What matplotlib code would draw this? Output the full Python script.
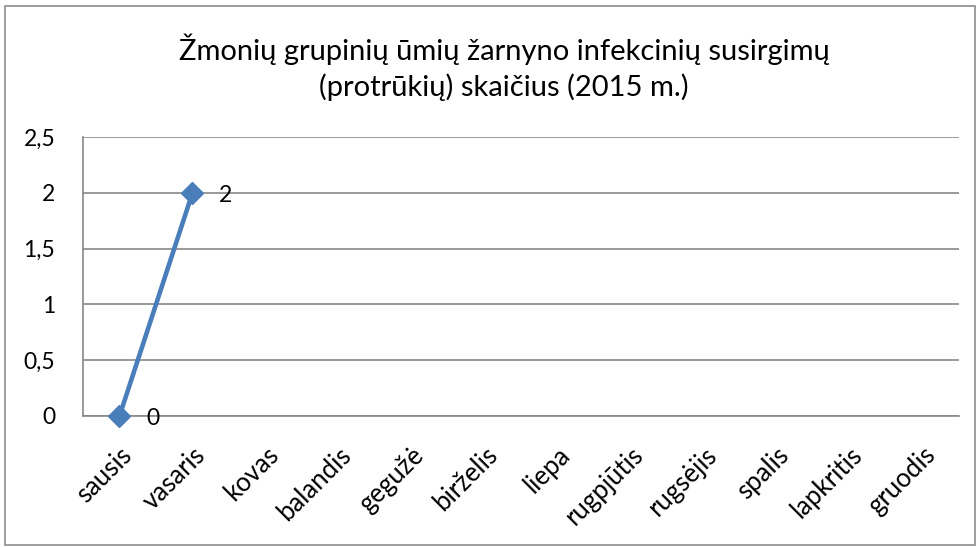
import matplotlib
matplotlib.use("Agg")
import matplotlib.pyplot as plt
import numpy as np
from matplotlib.patches import Rectangle

months = ["sausis", "vasaris", "kovas", "balandis", "gegužė", "birželis",
          "liepa", "rugpjūtis", "rugsėjis", "spalis", "lapkritis", "gruodis"]
values = [0, 2, np.nan, np.nan, np.nan, np.nan, np.nan, np.nan, np.nan, np.nan, np.nan, np.nan]
yticks = [0, 0.5, 1, 1.5, 2, 2.5]
ytick_labels = ["0", "0,5", "1", "1,5", "2", "2,5"]
title = "Žmonių grupinių ūmių žarnyno infekcinių susirgimų\n(protrūkių) skaičius (2015 m.)"

plt.rcParams['font.family'] = ['Lato', 'DejaVu Sans']

W, H = 979, 547
fig = plt.figure(figsize=(W / 100, H / 100), dpi=100)
fig.patch.set_facecolor("white")
fig.patches.append(Rectangle((5 / W, 2 / H), (W - 9) / W, (H - 8) / H, transform=fig.transFigure,
                             fill=False, edgecolor="#8c8c8c", linewidth=1.2))

left, right, top, bottom = 83, 959, 137, 416
ax = fig.add_axes([left / W, 1 - bottom / H, (right - left) / W, (bottom - top) / H])

x = np.arange(len(months))
ax.plot(x, values, color="#4a7ebb", linewidth=3.3, marker="D", markersize=11,
        markerfacecolor="#4a7ebb", markeredgecolor="#4a7ebb", zorder=3, clip_on=False)
for xi, v in zip(x, values):
    if not np.isnan(v):
        ax.annotate(f"{v:g}", (xi, v), xytext=(19, -2), textcoords="offset points",
                    ha="left", va="center", fontsize=16.5, color="black")

ax.set_xlim(-0.5, len(months) - 0.5)
ax.set_ylim(0, 2.5)
ax.set_yticks(yticks)
ax.set_yticklabels(ytick_labels, fontsize=16.5)
ax.set_xticks(x)
ax.set_xticklabels(months, rotation=45, ha="right", va="top", rotation_mode="anchor", fontsize=18.5)
ax.tick_params(axis="both", length=0)
ax.tick_params(axis="y", pad=20)
ax.tick_params(axis="x", pad=19)
ax.grid(axis="y", color="#878787", linewidth=1.2)
ax.set_axisbelow(True)
for s in ["top", "right"]:
    ax.spines[s].set_visible(False)
for s in ["left", "bottom"]:
    ax.spines[s].set_color("#878787")
    ax.spines[s].set_linewidth(1.2)

fig.text(504 / W, 1 - 67 / H, title, ha="center", va="center",
         fontsize=21, linespacing=1.35)

fig.savefig("out.png", dpi=100)
